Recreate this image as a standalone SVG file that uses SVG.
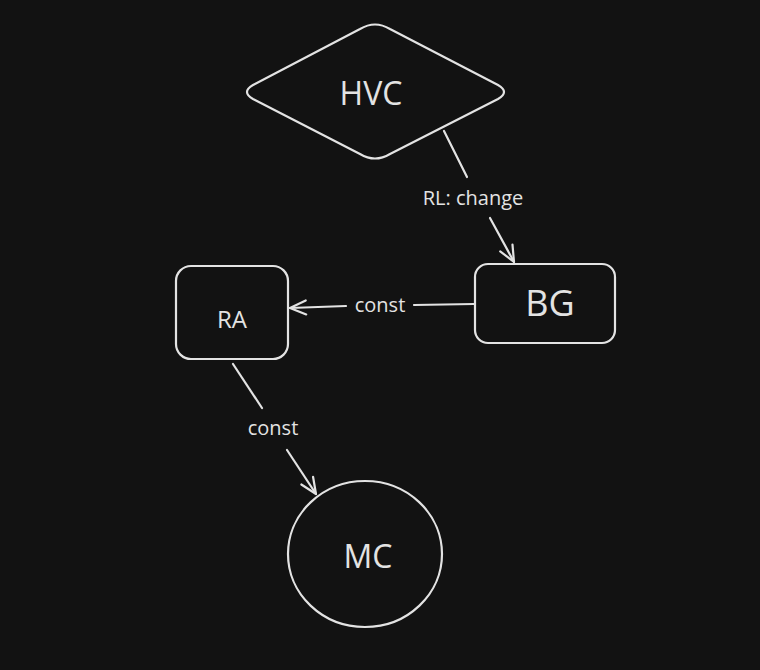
<svg xmlns="http://www.w3.org/2000/svg" width="760" height="670" viewBox="0 0 760 670">
<style>
.shape{fill:#121212;stroke:#e3e3e3;stroke-width:2.2;stroke-linejoin:round}
.edge{fill:none;stroke:#e3e3e3;stroke-width:2.2;stroke-linecap:round;stroke-linejoin:round}
.t{fill:#e3e3e3;font-family:"Open Sans","Liberation Sans",sans-serif;text-anchor:middle;dominant-baseline:central}
.lbl{font-size:20px}
</style>
<defs>
<marker id="ah" viewBox="0 0 20 20" refX="18" refY="10" markerWidth="20" markerHeight="20" markerUnits="userSpaceOnUse" orient="auto">
<path d="M2,3 L18,10 L2,17" fill="none" stroke="#e3e3e3" stroke-width="2.2" stroke-linecap="round" stroke-linejoin="round"/>
</marker>
</defs>
<rect width="760" height="670" fill="#121212"/>
<g id="connectors">
<path class="edge" d="M444,131 L467,177"/>
<path class="edge" d="M490,218 L514,262" marker-end="url(#ah)"/>
<text class="t lbl" x="473" y="197">RL: change</text>
<path class="edge" d="M474,304 L414,305"/>
<path class="edge" d="M346,306 L290,308" marker-end="url(#ah)"/>
<text class="t lbl" x="380" y="304">const</text>
<path class="edge" d="M233,364 L262,408"/>
<path class="edge" d="M287,450 L316,494" marker-end="url(#ah)"/>
<text class="t lbl" x="273" y="427">const</text>
</g>
<g id="HVC">
<path class="shape" d="M360,29 Q375,20 390,29 L498,85 Q510,92 498,99 L390,154 Q375,163 360,154 L253,99 Q241,92 253,85 Z"/>
<text class="t" x="371" y="92" font-size="32">HVC</text>
</g>
<g id="BG">
<rect class="shape" x="475" y="264" width="140" height="79" rx="13"/>
<text class="t" x="550" y="302" font-size="36">BG</text>
</g>
<g id="RA">
<rect class="shape" x="176" y="266" width="112" height="93" rx="15"/>
<text class="t" x="232" y="318" font-size="24">RA</text>
</g>
<g id="MC">
<ellipse class="shape" cx="365" cy="554" rx="77" ry="73"/>
<text class="t" x="368" y="555" font-size="32">MC</text>
</g>
</svg>
